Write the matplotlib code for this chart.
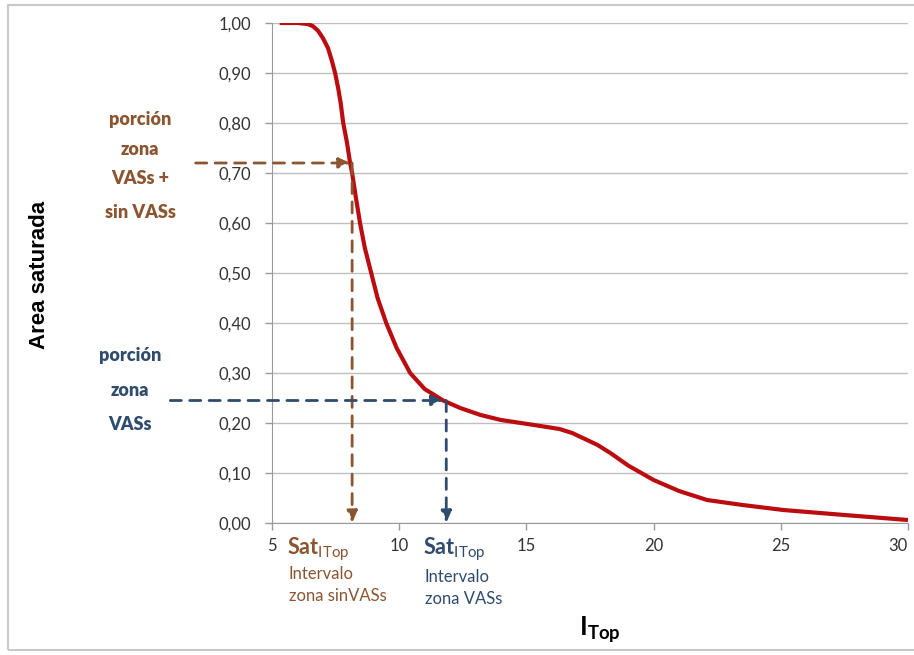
import matplotlib
matplotlib.use('Agg')
import matplotlib.pyplot as plt
from matplotlib.patches import Rectangle

# curve
x_itop=[5.3,6.0,6.4,6.6,6.8,7.0,7.2,7.35,7.48,7.6,7.7,7.8,7.95,8.07,8.15,8.3,8.46,8.65,8.9,9.15,9.49,9.9,10.43,11.0,11.73,12.4,13.2,14.0,15.3,16.3,16.8,17.3,17.8,18.3,19.0,20.0,21.0,22.1,23.5,25.1,27.5,30.0]
y_area=[1.0,1.0,0.998,0.994,0.985,0.97,0.95,0.925,0.90,0.87,0.84,0.80,0.76,0.72,0.70,0.65,0.60,0.55,0.50,0.45,0.40,0.35,0.30,0.268,0.245,0.23,0.216,0.206,0.196,0.188,0.18,0.168,0.156,0.14,0.115,0.086,0.064,0.046,0.036,0.026,0.016,0.006]

y_ticks=[0.0,0.1,0.2,0.3,0.4,0.5,0.6,0.7,0.8,0.9,1.0]
y_ticklabels=['0,00','0,10','0,20','0,30','0,40','0,50','0,60','0,70','0,80','0,90','1,00']
x_ticks=[5,10,15,20,25,30]

# the two marked points
sin_x,sin_y=8.1,0.72
vas_x,vas_y=11.85,0.245

brown='#8a5530'
blue='#2f4b6e'
red='#bb0c10'

plt.rcParams['mathtext.fontset']='custom'
plt.rcParams['mathtext.bf']='Lato:bold'
plt.rcParams['mathtext.rm']='Lato'

fig=plt.figure(figsize=(9.14,6.55),dpi=100)
fig.patches.append(Rectangle((8/914,5/655),1,1-10/655,transform=fig.transFigure,fill=False,edgecolor='#c8c8c8',lw=1.5))
ax=fig.add_axes([272/914,1-523/655,636/914,500/655])

ax.plot(x_itop,y_area,color=red,lw=3,solid_capstyle='butt',solid_joinstyle='round',zorder=3)
ax.set_xlim(5,30)
ax.set_ylim(0,1)
ax.set_yticks(y_ticks)
ax.set_yticklabels(y_ticklabels)
ax.set_xticks(x_ticks)
ax.grid(axis='y',color='#bfbfbf',lw=1)
ax.set_axisbelow(True)
for s in ['top','right']:
    ax.spines[s].set_visible(False)
for s in ['left','bottom']:
    ax.spines[s].set_color('#999999')
ax.tick_params(axis='both',length=5,color='#999999',labelsize=12,labelcolor='#333333',width=1)
ax.tick_params(axis='y',pad=10)
ax.tick_params(axis='x',pad=6)
for lbl in ax.get_xticklabels()+ax.get_yticklabels():
    lbl.set_fontfamily('Lato')
ax.get_xticklabels()[-1].set_horizontalalignment('right')

# dashed guide arrows
def arrow(xy,xytext,color):
    ax.annotate('',xy=xy,xytext=xytext,xycoords='data',textcoords='data',
                arrowprops=dict(arrowstyle='-|>,head_length=0.7,head_width=0.3',color=color,lw=2,linestyle=(0,(4,3)),shrinkA=0,shrinkB=0),
                annotation_clip=False,zorder=4)

arrow((sin_x,sin_y),(2.0,sin_y),brown)
arrow((sin_x+0.05,0.0),(sin_x+0.05,sin_y),brown)
arrow((vas_x-0.1,vas_y),(1.0,vas_y),blue)
arrow((vas_x,0.0),(vas_x,vas_y),blue)

lab=dict(fontsize=13,fontweight='heavy',family='Lato',ha='center',va='center')
fig.text(140/914,1-119/655,'porción',color=brown,**lab)
fig.text(140/914,1-150/655,'zona',color=brown,**lab)
fig.text(140/914,1-179/655,'VASs +',color=brown,**lab)
fig.text(140/914,1-212/655,'sin VASs',color=brown,**lab)

fig.text(130/914,1-355/655,'porción',color=blue,**lab)
fig.text(130/914,1-390/655,'zona',color=blue,**lab)
fig.text(130/914,1-425/655,'VASs',color=blue,**lab)

fig.text(287/914,1-549/655,r'$\mathbf{Sat}_{\mathrm{ITop}}$',color=brown,fontsize=15.5,ha='left',va='center')
fig.text(289/914,1-574/655,'Intervalo',color=brown,fontsize=12,family='Lato',ha='left',va='center')
fig.text(289/914,1-596/655,'zona sinVASs',color=brown,fontsize=12,family='Lato',ha='left',va='center')

fig.text(423/914,1-549/655,r'$\mathbf{Sat}_{\mathrm{ITop}}$',color=blue,fontsize=15.5,ha='left',va='center')
fig.text(425/914,1-577/655,'Intervalo',color=blue,fontsize=12,family='Lato',ha='left',va='center')
fig.text(425/914,1-599/655,'zona VASs',color=blue,fontsize=12,family='Lato',ha='left',va='center')

fig.text(40/914,1-275/655,'Area saturada',rotation=90,fontsize=16,fontweight='bold',family='Liberation Sans',ha='center',va='center')
fig.text(600/914,1-630/655,r'$\mathbf{I}_{\mathbf{Top}}$',fontsize=19,ha='center',va='center')

fig.savefig('out.png',dpi=100,facecolor='white')
